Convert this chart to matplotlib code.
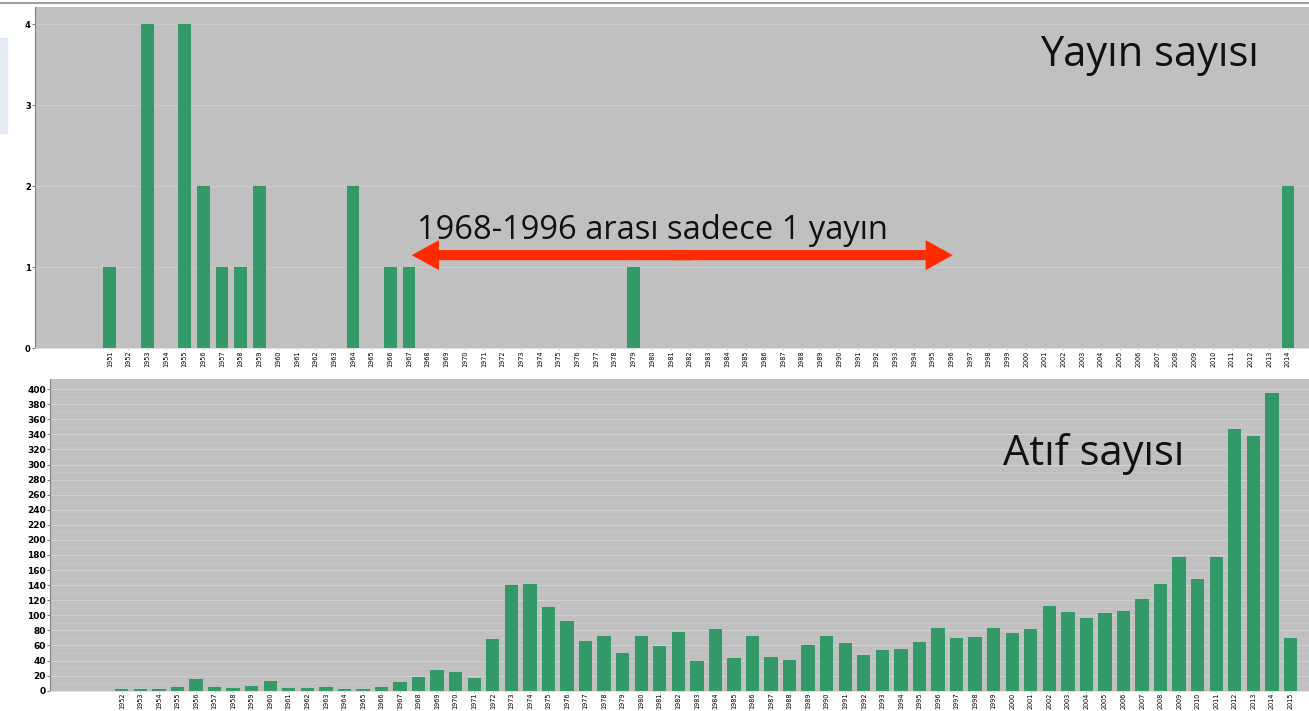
import numpy as np
import matplotlib.pyplot as plt
from matplotlib import font_manager
from matplotlib.patches import Rectangle

# Yayın sayısı (publications per year)
pub_years = list(range(1951, 2015))
pub_vals = [0] * len(pub_years)
for y, v in [(1951, 1), (1953, 4), (1955, 4), (1956, 2), (1957, 1), (1958, 1),
             (1959, 2), (1964, 2), (1966, 1), (1967, 1), (1979, 1), (2014, 2)]:
    pub_vals[pub_years.index(y)] = v

# Atıf sayısı (citations per year)
cit_years = list(range(1952, 2016))
cit_vals = [2, 2, 2, 5, 15, 5, 3, 6, 13, 4, 4, 5, 2, 2, 5, 12, 18, 27,
            25, 17, 69, 140, 142, 111, 93, 66, 73, 50, 72, 59, 78, 39, 82, 43,
            73, 45, 41, 60, 72, 63, 48,
            54, 55, 64, 83, 70, 71, 83, 76, 82, 112, 105, 96, 103, 106, 121,
            142, 177, 148, 177, 347, 338, 395, 70]

green = "#339966"
bg = "#c0c0c0"

# narrow font for the year labels if there is one
names = {f.name for f in font_manager.fontManager.ttflist}
if "Liberation Sans Narrow" in names:
    xfont, xsize = "Liberation Sans Narrow", 6.3
else:
    xfont, xsize = "DejaVu Sans", 4.7

fig = plt.figure(figsize=(13.09, 7.11), dpi=100)
fig.patch.set_facecolor("white")

W, H = 1309, 711
ax1 = fig.add_axes([35 / W, 1 - 348.3 / H, (1309 - 35) / W, (348.3 - 7.3) / H])
ax2 = fig.add_axes([50 / W, 1 - 690.7 / H, (1309 - 50) / W, (690.7 - 379.3) / H])

for ax in (ax1, ax2):
    ax.set_facecolor(bg)
    ax.set_axisbelow(True)
    for s in ("top", "right"):
        ax.spines[s].set_visible(False)
    ax.spines["left"].set_color("#808080")
    ax.spines["bottom"].set_color("#e0e0e0")
    ax.tick_params(axis="y", length=2, color="#808080", pad=1)
    ax.tick_params(axis="x", length=1, color="#808080", pad=0.5)

# top chart
ax1.bar(pub_years, pub_vals, width=0.68, color=green)
ax1.set_xlim(1947.0, 2015.13)
ax1.set_ylim(0, 4.21)
ax1.set_yticks([0, 1, 2, 3, 4])
ax1.set_yticklabels(["0", "1", "2", "3", "4"], fontsize=6, fontweight="bold")
ax1.set_xticks(pub_years)
ax1.set_xticklabels([str(y) for y in pub_years], rotation=90, fontsize=xsize,
                    family=xfont)
ax1.yaxis.grid(True, color="#cbcbcb", lw=0.8)

ax1.text(2006.6, 3.48, "Yayın sayısı", fontsize=30, family="Open Sans",
         ha="center", va="baseline", color="#111111")
ax1.text(1980.0, 1.354, "1968-1996 arası sadece 1 yayın", fontsize=23.5,
         family="Open Sans", ha="center", va="baseline", color="#111111")

# red double arrow, drawn as two overlapping halves from the middle
a_left, a_right, a_y = 1967.15, 1996.08, 1.15
a_mid = (a_left + a_right) / 2
for start, end in ((a_mid + 0.5, a_left), (a_mid - 0.5, a_right)):
    ax1.arrow(start, a_y, end - start, 0, width=0.125, head_width=0.37,
              head_length=1.45, length_includes_head=True, color="#ff2a00",
              lw=0)

# bottom chart
ax2.bar(cit_years, cit_vals, width=0.72, color=green)
ax2.set_xlim(1948.13, 2016.0)
ax2.set_ylim(0, 413)
ax2.set_yticks(np.arange(0, 401, 20))
ax2.set_yticklabels([str(v) for v in range(0, 401, 20)], fontsize=6.5,
                    fontweight="bold")
ax2.set_yticks(np.arange(10, 401, 20), minor=True)
ax2.tick_params(axis="y", which="minor", length=0)
ax2.set_xticks(cit_years)
ax2.set_xticklabels([str(y) for y in cit_years], rotation=90, fontsize=xsize,
                    family=xfont)
ax2.yaxis.grid(True, which="major", color="#d0d0d0", lw=0.8)
ax2.yaxis.grid(True, which="minor", color="#c8c8c8", lw=0.6)

ax2.text(2004.4, 299.5, "Atıf sayısı", fontsize=30, family="Open Sans",
         ha="center", va="baseline", color="#111111")

# slide decorations
fig.add_artist(plt.Line2D([0, 1], [1 - 3 / H, 1 - 3 / H], color="#a0a0a0", lw=1.5))
fig.add_artist(Rectangle((0, 1 - 133 / H), 7 / W, 95 / H, color="#e4eaf4",
                         transform=fig.transFigure))

fig.savefig("out.png", dpi=100)
